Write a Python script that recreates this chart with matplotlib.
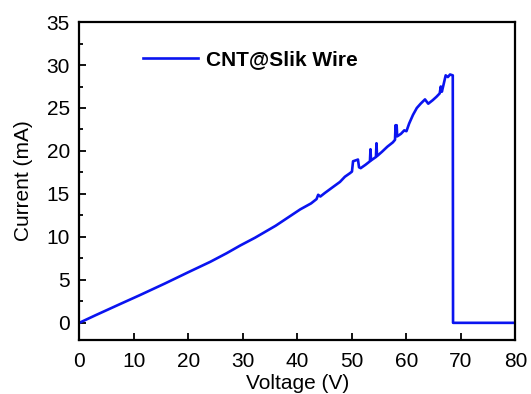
import numpy as np
import matplotlib.pyplot as plt
from matplotlib.ticker import MultipleLocator

plt.rcParams['font.family'] = ['Liberation Sans', 'DejaVu Sans']

# I-V sweep (voltage in V, current in mA)
voltage = [0, 0.3, 3, 7.5, 11, 15.75, 20, 24, 27, 29.5, 32.2, 36, 40.5, 42.5,
           43.5, 43.8, 44.2, 45, 46.5, 47.8, 48.7, 49.6, 50.0, 50.2, 51.1, 51.3,
           51.6, 52.5, 53.3, 53.4, 53.5, 54.4, 54.5, 54.6, 55.5, 56.5, 57.5, 57.9,
           58.0, 58.1, 58.2, 58.3, 59.0, 59.6, 60.0, 60.5, 61.2, 61.9, 62.6, 63.4,
           64.0, 64.8, 65.5, 66.1, 66.3, 66.5, 66.8, 67.2, 67.6, 68.0, 68.5, 68.55,
           70, 75, 80]
current = [0, 0.1, 0.9, 2.2, 3.2, 4.6, 5.9, 7.1, 8.1, 9.0, 9.9, 11.3, 13.2, 13.9,
           14.4, 14.9, 14.7, 15.1, 15.8, 16.4, 17.0, 17.4, 17.6, 18.8, 19.0, 18.1,
           18.0, 18.4, 18.8, 20.2, 18.9, 19.3, 20.9, 19.4, 19.9, 20.5, 21.0, 21.3,
           23.0, 21.8, 23.0, 21.7, 22.0, 22.4, 22.3, 23.2, 24.2, 25.0, 25.5, 26.0,
           25.5, 25.9, 26.3, 26.7, 27.5, 26.9, 27.7, 28.8, 28.6, 28.9, 28.8, 0,
           0, 0, 0]

fig = plt.figure(figsize=(5.31, 3.94), dpi=100)
ax = fig.add_axes([0.1497, 0.137, 0.821, 0.807])

ax.plot(voltage, current, color='#0a14f0', lw=1.9, label='CNT@Slik Wire')

ax.set_xlim(0, 80)
ax.set_ylim(-2, 35)
ax.xaxis.set_major_locator(MultipleLocator(10))
ax.yaxis.set_major_locator(MultipleLocator(5))
ax.yaxis.set_minor_locator(MultipleLocator(2.5))
ax.tick_params(which='both', direction='in', labelsize=15, width=1.3,
               top=False, right=False)
ax.tick_params(which='major', length=5)
ax.tick_params(which='minor', length=3)
ax.tick_params(axis='x', pad=8.5)
ax.tick_params(axis='y', pad=7)
for s in ax.spines.values():
    s.set_linewidth(1.6)

ax.set_xlabel('Voltage (V)', fontsize=15, labelpad=2.5)
ax.set_ylabel('Current (mA)', fontsize=15, labelpad=9.5)

ax.legend(loc='upper left', bbox_to_anchor=(0.103, 0.97), frameon=False,
          handlelength=2.64, handletextpad=0.38,
          prop={'weight': 'bold', 'size': 15})

fig.savefig('out.png', dpi=100)
